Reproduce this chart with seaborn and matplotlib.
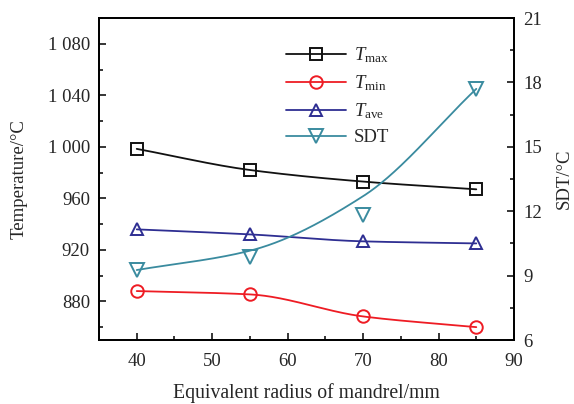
import numpy as np
import pandas as pd
import matplotlib
matplotlib.use("Agg")
import matplotlib.pyplot as plt
from matplotlib.lines import Line2D
from matplotlib.ticker import MultipleLocator
import seaborn as sns

# Equivalent mandrel radius (mm)
radius = [40, 55, 70, 85]
# Temperatures (°C)
t_max = [998.4, 982.0, 973.0, 967.0]
t_min = [888.0, 885.4, 868.3, 860.0]
t_ave = [935.9, 932.0, 926.6, 925.0]
# Standard deviation of temperature (°C): measured points and fitted trend
sdt = [9.26, 9.88, 11.82, 17.7]
sdt_trend = [9.26, 10.16, 12.7, 17.7]

temp_ticks = [880, 920, 960, 1000, 1040, 1080]
temp_ticklabels = ["880", "920", "960", "1 000", "1 040", "1 080"]
sdt_ticks = [6, 9, 12, 15, 18, 21]
x_ticks = [40, 50, 60, 70, 80, 90]

sns.set_theme(style="white")
plt.rcParams["font.family"] = ["Liberation Serif", "DejaVu Serif"]
plt.rcParams["mathtext.fontset"] = "custom"
plt.rcParams["mathtext.rm"] = "Liberation Serif"
plt.rcParams["mathtext.it"] = "Liberation Serif:italic"
FS = 13.5


def pchip(x, y, xs):
    """Monotone piecewise cubic Hermite curve through (x, y)."""
    x = np.asarray(x, float)
    y = np.asarray(y, float)
    h = np.diff(x)
    d = np.diff(y) / h
    m = np.zeros_like(y)
    for k in range(1, len(x) - 1):
        if d[k - 1] * d[k] > 0:
            w1 = 2 * h[k] + h[k - 1]
            w2 = h[k] + 2 * h[k - 1]
            m[k] = (w1 + w2) / (w1 / d[k - 1] + w2 / d[k])
    m[0] = d[0]
    m[-1] = d[-1]
    out = np.empty_like(xs)
    for i, xv in enumerate(xs):
        k = min(np.searchsorted(x, xv, side="right") - 1, len(x) - 2)
        t = (xv - x[k]) / h[k]
        h00 = 2 * t**3 - 3 * t**2 + 1
        h10 = t**3 - 2 * t**2 + t
        h01 = -2 * t**3 + 3 * t**2
        h11 = t**3 - t**2
        out[i] = h00 * y[k] + h10 * h[k] * m[k] + h01 * y[k + 1] + h11 * h[k] * m[k + 1]
    return out


xs = np.linspace(radius[0], radius[-1], 200)
pts = pd.DataFrame({"r": radius, "tmax": t_max, "tmin": t_min, "tave": t_ave, "sdt": sdt})
curves = pd.DataFrame({
    "r": xs,
    "tmax": pchip(radius, t_max, xs),
    "tmin": pchip(radius, t_min, xs),
    "tave": pchip(radius, t_ave, xs),
    "sdt": pchip(radius, sdt_trend, xs),
})

C_MAX = "#111111"
C_MIN = "#ee1c24"
C_AVE = "#2e2e92"
C_SDT = "#3a8b9f"
LW = 1.3
MS = 9

fig = plt.figure(figsize=(5.74, 4.04), dpi=100)
ax = fig.add_axes([0.1725, 0.1584, 0.723, 0.797])
ax2 = ax.twinx()

series = [("tmax", C_MAX, "s", ax), ("tmin", C_MIN, "o", ax), ("tave", C_AVE, "^", ax)]
for col, c, mk, a in series:
    sns.lineplot(data=curves, x="r", y=col, ax=a, color=c, lw=LW, legend=False)
    a.plot(pts["r"], pts[col], ls="none", marker=mk, ms=MS, mfc="none", mec=c, mew=1.4)

sns.lineplot(data=curves, x="r", y="sdt", ax=ax2, color=C_SDT, lw=LW, legend=False)
ax2.plot(pts["r"], pts["sdt"], ls="none", marker="v", ms=MS + 1, mfc="none", mec=C_SDT, mew=1.4)

ax.set_xlim(35, 90)
ax.set_ylim(850, 1100)
ax2.set_ylim(6, 21)

ax.set_xticks(x_ticks)
ax.set_xticklabels([str(v) for v in x_ticks], fontsize=FS)
ax.xaxis.set_minor_locator(MultipleLocator(5))
ax.set_yticks(temp_ticks)
ax.set_yticklabels(temp_ticklabels, fontsize=FS)
ax.yaxis.set_minor_locator(MultipleLocator(20))
ax2.set_yticks(sdt_ticks)
ax2.set_yticklabels([str(v) for v in sdt_ticks], fontsize=FS)
ax2.yaxis.set_minor_locator(MultipleLocator(1.5))

for a in (ax, ax2):
    a.tick_params(which="both", direction="in", color="black", width=1.1)
    a.tick_params(which="major", length=5, pad=6.5)
    a.tick_params(which="minor", length=3)
    for s in a.spines.values():
        s.set_color("black")
        s.set_linewidth(1.3)
ax.tick_params(axis="y", which="both", left=True, right=False)
ax.tick_params(axis="x", which="both", bottom=True, top=False)
ax.tick_params(axis="x", which="major", pad=9)
ax2.tick_params(axis="y", which="both", right=True, left=False)

ax.set_xlabel("Equivalent radius of mandrel/mm", fontsize=14.2, labelpad=10)
ax.set_ylabel("Temperature/°C", fontsize=FS, labelpad=14.5)
ax2.set_ylabel("SDT/°C", fontsize=FS, labelpad=10)

handles = [
    Line2D([], [], color=C_MAX, lw=LW, marker="s", ms=MS, mfc="none", mec=C_MAX, mew=1.4),
    Line2D([], [], color=C_MIN, lw=LW, marker="o", ms=MS, mfc="none", mec=C_MIN, mew=1.4),
    Line2D([], [], color=C_AVE, lw=LW, marker="^", ms=MS, mfc="none", mec=C_AVE, mew=1.4),
    Line2D([], [], color=C_SDT, lw=LW, marker="v", ms=MS + 1, mfc="none", mec=C_SDT, mew=1.4),
]
labels = [r"$T_{\rm max}$", r"$T_{\rm min}$", r"$T_{\rm ave}$", "SDT"]
ax2.legend(handles, labels, loc="upper left", bbox_to_anchor=(0.4155, 0.962),
           frameon=False, fontsize=FS, handlelength=3.2, handletextpad=0.4,
           labelspacing=0.44, borderpad=0.3)

fig.savefig("out.png", dpi=100, facecolor="white")
